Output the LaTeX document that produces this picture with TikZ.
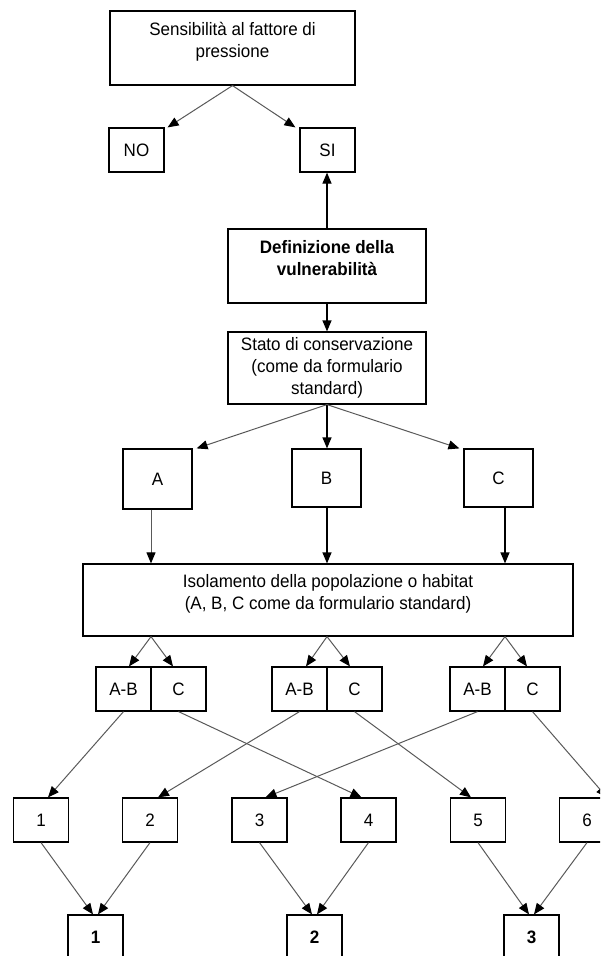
\documentclass[tikz,border=0pt]{standalone}
\usepackage{fontspec}
\setmainfont{Liberation Sans}[FakeStretch=0.945]
\usetikzlibrary{arrows.meta}
\begin{document}
\begin{tikzpicture}[x=1pt,y=-1pt,
  fs/.style={font=\fontsize{18}{22}\selectfont},
  box/.style={draw=black, line width=1.2pt, inner sep=0pt, minimum width=55pt, minimum height=44pt, fs, align=center},
  txt/.style={inner sep=0pt, fs, align=center},
  arr/.style={-{Triangle[length=11pt,width=9pt,color=black]}, line width=1.2pt, draw=black},
  garr/.style={arr, line width=1pt, draw=black!65}
]
\useasboundingbox (0,0) rectangle (600,956);
\clip (0,0) rectangle (600,956);

% top part
\node[box, minimum width=245pt, minimum height=74pt] (top) at (232.5,48) {};
\node[txt] (topT) at (232.5,42) {Sensibilità al fattore di\\pressione};
\node[box] (no) at (136.5,150) {NO};
\node[box] (si) at (327.5,150) {SI};
\node[box, minimum width=198pt, minimum height=74pt] (def) at (327,266) {};
\node[txt, font=\fontsize{18}{22}\selectfont\bfseries] (defT) at (327,258) {Definizione della\\vulnerabilità};
\node[box, minimum width=198pt, minimum height=72pt] (stato) at (327,368) {Stato di conservazione\\(come da formulario\\standard)};

% A B C
\node[box, minimum width=69pt, minimum height=60pt] (A) at (157.5,479) {A};
\node[box, minimum width=69pt, minimum height=58pt] (B) at (326.5,478) {B};
\node[box, minimum width=69pt, minimum height=58pt] (C) at (498.5,478) {C};

\node[box, minimum width=490pt, minimum height=72pt] (iso) at (328,600) {};
\node[txt] (isoT) at (328,594) {Isolamento della popolazione o habitat\\(A, B, C come da formulario standard)};

% pairs
\node[box] (ab1) at (123.5,689) {A-B};
\node[box] (c1)  at (178.5,689) {C};
\node[box] (ab2) at (299.5,689) {A-B};
\node[box] (c2)  at (354.5,689) {C};
\node[box] (ab3) at (477.5,689) {A-B};
\node[box] (c3)  at (532.5,689) {C};

% numbers
\node[box] (n1) at (41,820) {1};
\node[box] (n2) at (150,820) {2};
\node[box] (n3) at (259.5,820) {3};
\node[box] (n4) at (368.5,820) {4};
\node[box] (n5) at (478,820) {5};
\node[box] (n6) at (587,820) {6};

% bottom
\node[box, font=\fontsize{18}{22}\selectfont\bfseries] (b1) at (95.5,937) {1};
\node[box, font=\fontsize{18}{22}\selectfont\bfseries] (b2) at (314.5,937) {2};
\node[box, font=\fontsize{18}{22}\selectfont\bfseries] (b3) at (531.5,937) {3};

% connectors top
\draw[garr] (top.south) -- ([xshift=3pt]no.north east);
\draw[garr] (top.south) -- ([xshift=-4pt]si.north west);
\draw[arr] (def.north) -- (def.north |- si.south);
\draw[arr] (def.south) -- (stato.north);
\draw[garr] (stato.south) -- ([xshift=4pt]A.north east);
\draw[arr] (stato.south) -- (stato.south |- B.north);
\draw[garr] (stato.south) -- ([xshift=-4pt]C.north west);

% to isolation box
\coordinate (aOut) at ([xshift=-6.5pt]A.south);
\coordinate (bOut) at ([xshift=0.5pt]B.south);
\coordinate (cOut) at ([xshift=6.5pt]C.south);
\draw[garr] (aOut) -- (aOut |- iso.north);
\draw[arr] (bOut) -- (bOut |- iso.north);
\draw[arr] (cOut) -- (cOut |- iso.north);

% from isolation box to pairs
\draw[garr] (aOut |- iso.south) -- ([xshift=5.5pt]ab1.north);
\draw[garr] (aOut |- iso.south) -- ([xshift=-5.5pt]c1.north);
\draw[garr] (bOut |- iso.south) -- ([xshift=6.5pt]ab2.north);
\draw[garr] (bOut |- iso.south) -- ([xshift=-4.5pt]c2.north);
\draw[garr] (cOut |- iso.south) -- ([xshift=5.5pt]ab3.north);
\draw[garr] (cOut |- iso.south) -- ([xshift=-5.5pt]c3.north);

% cross connectors
\draw[garr] (ab1.south) -- ([xshift=7pt]n1.north);
\draw[garr] (c1.south)  -- ([xshift=-7pt]n4.north);
\draw[garr] (ab2.south) -- ([xshift=8pt]n2.north);
\draw[garr] (c2.south)  -- ([xshift=-7pt]n5.north);
\draw[garr] (ab3.south) -- ([xshift=6pt]n3.north);
\draw[garr] (c3.south)  -- ([xshift=20pt]n6.north);

% to bottom
\draw[garr] (n1.south) -- ([xshift=-2.5pt]b1.north);
\draw[garr] (n2.south) -- ([xshift=2.5pt]b1.north);
\draw[garr] (n3.south) -- ([xshift=-2.5pt]b2.north);
\draw[garr] (n4.south) -- ([xshift=2.5pt]b2.north);
\draw[garr] (n5.south) -- ([xshift=-2.5pt]b3.north);
\draw[garr] (n6.south) -- ([xshift=2.5pt]b3.north);
\end{tikzpicture}
\end{document}
